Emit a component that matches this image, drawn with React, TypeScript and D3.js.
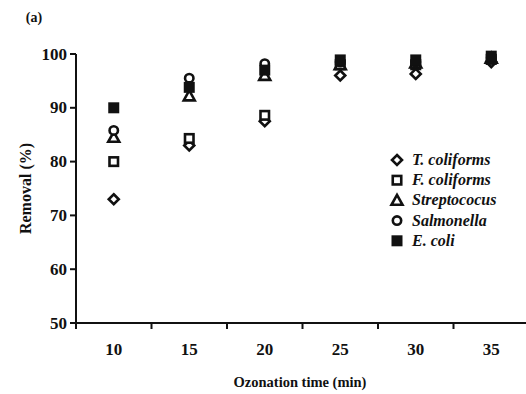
import React from "react";
import * as d3 from "d3";

const categories = ["10", "15", "20", "25", "30", "35"];
const yTicks = [50, 60, 70, 80, 90, 100];
const seriesNames = ["T. coliforms", "F. coliforms", "Streptococus", "Salmonella", "E. coli"];
const tColiforms = [73, 83, 87.5, 96, 96.3, 98.5];
const fColiforms = [80, 84.3, 88.6, 98, 98, 99];
const streptococus = [84.5, 92.2, 96, 98, 98.3, 99.2];
const salmonella = [85.8, 95.5, 98.2, 98.5, 98.5, 99.3];
const eColi = [90, 93.8, 97, 98.9, 98.9, 99.6];

const seriesValues = [tColiforms, fColiforms, streptococus, salmonella, eColi];
const seriesShapes = ["diamond", "square", "triangle", "circle", "filled"];

const W = 526;
const H = 394;
const font = "'Liberation Serif', 'DejaVu Serif', 'Times New Roman', serif";

function Marker({ shape, x, y }: { shape: string; x: number; y: number }) {
  const sw = 2.6;
  if (shape === "diamond") {
    const r = 5;
    return (
      <path
        d={`M${x},${y - r}L${x + r},${y}L${x},${y + r}L${x - r},${y}Z`}
        fill="white"
        stroke="#111"
        strokeWidth={sw}
      />
    );
  }
  if (shape === "square") {
    const s = 8.5;
    return <rect x={x - s / 2} y={y - s / 2} width={s} height={s} fill="white" stroke="#111" strokeWidth={sw} />;
  }
  if (shape === "triangle") {
    const r = 5.5;
    return (
      <path
        d={`M${x},${y - r}L${x + r},${y + r * 0.8}L${x - r},${y + r * 0.8}Z`}
        fill="white"
        stroke="#111"
        strokeWidth={sw}
        strokeLinejoin="miter"
      />
    );
  }
  if (shape === "circle") {
    return <circle cx={x} cy={y} r={4.2} fill="white" stroke="#111" strokeWidth={sw} />;
  }
  const s = 11;
  return <rect x={x - s / 2} y={y - s / 2} width={s} height={s} fill="#111" />;
}

const T = (props: any) => <text {...props} style={{ fontFamily: font }} />;

export default function App() {
  const x = d3.scaleBand<string>().domain(categories).range([76, 529]);
  const y = d3.scaleLinear().domain([50, 100]).range([323, 54]);
  const bw = x.bandwidth();

  const legendX = 397;
  const legendY0 = 160;
  const legendDy = 20.2;

  return (
    <svg width={W} height={H} style={{ position: "absolute", left: 0, top: 0, background: "white" }}>
      <rect x={0} y={0} width={W} height={H} fill="white" />
      <T x={34} y={22} fontSize={14} fontWeight="bold" textAnchor="middle" fill="#111">
        (a)
      </T>

      {/* Y axis */}
      <line x1={76} x2={76} y1={y(100)} y2={y(50) + 5} stroke="#111" strokeWidth={2} />
      {yTicks.map((t) => (
        <g key={t}>
          <line x1={70} x2={76} y1={y(t)} y2={y(t)} stroke="#111" strokeWidth={2} />
          <T x={67} y={y(t) + 5.5} fontSize={17} fontWeight="bold" textAnchor="end" fill="#111">
            {t}
          </T>
        </g>
      ))}

      {/* X axis */}
      <line x1={76} x2={W} y1={y(50)} y2={y(50)} stroke="#111" strokeWidth={2} />
      {categories.map((c) => (
        <g key={c}>
          <line x1={x(c) as number} x2={x(c) as number} y1={y(50)} y2={y(50) + 6} stroke="#111" strokeWidth={2} />
          <T x={(x(c) as number) + bw / 2} y={355} fontSize={17} fontWeight="bold" textAnchor="middle" fill="#111">
            {c}
          </T>
        </g>
      ))}

      {/* Axis titles */}
      <T x={300} y={387} fontSize={14.5} fontWeight="bold" textAnchor="middle" fill="#111">
        Ozonation time (min)
      </T>
      <T
        transform={`translate(31,${y(75)}) rotate(-90)`}
        fontSize={16}
        fontWeight="bold"
        textAnchor="middle"
        fill="#111"
      >
        Removal (%)
      </T>

      {/* Data */}
      {seriesValues.map((vals, si) =>
        vals.map((v, i) => (
          <Marker
            key={`${si}-${i}`}
            shape={seriesShapes[si]}
            x={(x(categories[i]) as number) + bw / 2}
            y={y(v)}
          />
        ))
      )}

      {/* Legend */}
      {seriesNames.map((n, i) => (
        <g key={n}>
          <Marker shape={seriesShapes[i]} x={legendX} y={legendY0 + i * legendDy} />
          <T
            x={legendX + 15}
            y={legendY0 + i * legendDy + 5}
            fontSize={16}
            fontWeight="bold"
            fontStyle="italic"
            fill="#111"
          >
            {n}
          </T>
        </g>
      ))}
    </svg>
  );
}
